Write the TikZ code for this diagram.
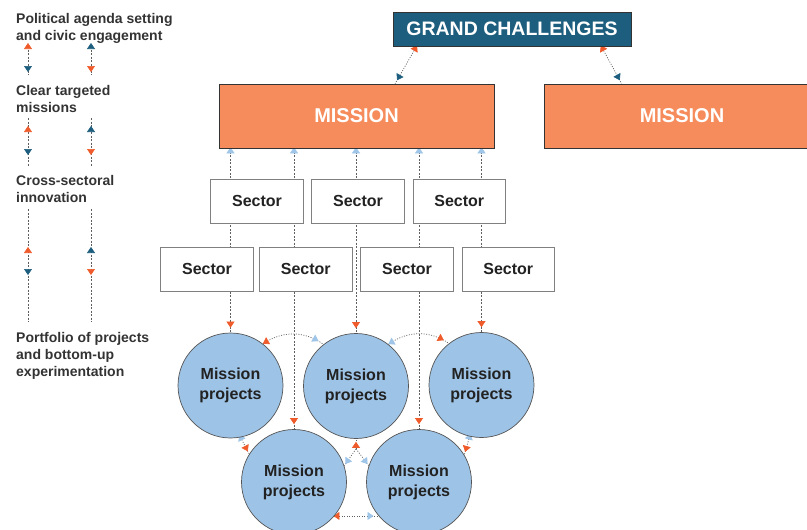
\documentclass[tikz,border=0pt]{standalone}
\usepackage{fontspec}
\setmainfont{Liberation Sans}
\usetikzlibrary{arrows.meta,decorations.markings,backgrounds,calc}
\definecolor{cOrange}{HTML}{EF5B2B}
\definecolor{cMission}{HTML}{F68B5B}
\definecolor{cTeal}{HTML}{1D5E7E}
\definecolor{cLight}{HTML}{9FC5E8}
\definecolor{cCirc}{HTML}{9DC3E6}
\definecolor{cCircB}{HTML}{555555}
\definecolor{cLine}{HTML}{5E5E5E}
\definecolor{cBox}{HTML}{808080}
\definecolor{cText}{HTML}{333333}
\definecolor{cDark}{HTML}{222222}
\begin{document}
\begin{tikzpicture}[x=1pt,y=-1pt,
  legtext/.style={anchor=north west, inner sep=0pt, align=left,
    font=\fontsize{14}{17}\selectfont\bfseries, text=cText},
  sectorbox/.style={draw=cBox, line width=0.8pt, fill=white,
    minimum width=92.5pt, minimum height=44pt, inner sep=0pt,
    font=\fontsize{16}{19}\selectfont\bfseries, text=cDark},
  missionbox/.style={draw=cText, line width=0.6pt, fill=cMission,
    minimum width=275pt, minimum height=64pt, inner sep=0pt,
    font=\fontsize{20}{24}\selectfont\bfseries, text=white},
  gcbox/.style={draw=cText, line width=0.6pt, fill=cTeal,
    minimum width=238pt, minimum height=34pt, inner sep=0pt,
    font=\fontsize{19.5}{23}\selectfont\bfseries, text=white},
  proj/.style={circle, draw=cCircB, line width=0.7pt, fill=cCirc,
    minimum size=105pt, inner sep=0pt, align=center,
    font=\fontsize{16}{20}\selectfont\bfseries, text=cDark},
  conn/.style={draw=cLine, line width=0.6pt, dash pattern=on 2pt off 1.5pt},
  dotconn/.style={draw=cLine, line width=0.7pt, dash pattern=on 1pt off 1.5pt},
  tips/.style n args={4}{postaction={decorate}, decoration={markings,
    mark=at position #2 with {\arrow{Triangle[reversed,width=8pt,length=6pt,color=#1]}},
    mark=at position #4 with {\arrow{Triangle[width=8pt,length=6pt,color=#3]}}}},
  endtip/.style 2 args={postaction={decorate}, decoration={markings,
    mark=at position #2 with {\arrow{Triangle[width=8pt,length=6pt,color=#1]}}}}
]
\useasboundingbox (0,0) rectangle (807,530);

% legend
\node[legtext] (t1) at (16,13) {Political agenda setting\\and civic engagement};
\node[legtext] (t2) at (16,85) {Clear targeted\\missions};
\node[legtext] (t3) at (16,175) {Cross-sectoral\\innovation};
\node[legtext] (t4) at (16,332) {Portfolio of projects\\and bottom-up\\experimentation};

\coordinate (l1a) at (28,46);  \coordinate (l1b) at (28,75);
\coordinate (r1a) at (91,46);  \coordinate (r1b) at (91,75);
\coordinate (l2a) at (28,118); \coordinate (l2b) at (28,167);
\coordinate (r2a) at (91,118); \coordinate (r2b) at (91,167);
\coordinate (l3a) at (28,209); \coordinate (l3b) at (28,322);
\coordinate (r3a) at (91,209); \coordinate (r3b) at (91,322);

\draw[conn, tips={cOrange}{3pt}{cTeal}{-3pt}] (l1a) -- (l1b);
\draw[conn, tips={cTeal}{3pt}{cOrange}{-3pt}] (r1a) -- (r1b);
\draw[conn, tips={cOrange}{14pt}{cTeal}{-12pt}] (l2a) -- (l2b);
\draw[conn, tips={cTeal}{14pt}{cOrange}{-12pt}] (r2a) -- (r2b);
\draw[conn, tips={cOrange}{44pt}{cTeal}{-47pt}] (l3a) -- (l3b);
\draw[conn, tips={cTeal}{44pt}{cOrange}{-47pt}] (r3a) -- (r3b);

% top boxes
\node[gcbox] (GC) at (512,29) {GRAND CHALLENGES};
\node[missionbox] (M1) at (356.5,116) {MISSION};
\node[missionbox, minimum width=276pt] (M2) at (682,116) {MISSION};

% sectors
\node[sectorbox] (s1) at (257,201) {Sector};
\node[sectorbox] (s2) at (358,201) {Sector};
\node[sectorbox] (s3) at (459.3,201) {Sector};
\node[sectorbox] (s4) at (207,269) {Sector};
\node[sectorbox] (s5) at (305.8,269) {Sector};
\node[sectorbox] (s6) at (407,269) {Sector};
\node[sectorbox] (s7) at (508.3,269) {Sector};

% mission projects
\node[proj] (c1) at (230.5,385.5) {Mission\\projects};
\node[proj] (c2) at (356,386) {Mission\\projects};
\node[proj] (c3) at (481.5,385) {Mission\\projects};
\node[proj] (c4) at (294,482) {Mission\\projects};
\node[proj] (c5) at (419,482) {Mission\\projects};

\coordinate (fork) at ($(c2.south)+(0,10)$);

\begin{pgfonlayer}{background}
\foreach \c in {c1,c4,c2,c5,c3}
  \draw[conn, tips={cLight}{5pt}{cOrange}{-5pt}] (\c.north |- M1.south) -- (\c.north);
\draw[dotconn, tips={cOrange}{5pt}{cTeal}{-4pt}]
  ($(GC.south west)!0.1!(GC.south east)$) -- ($(M1.north west)!0.64!(M1.north east)$);
\draw[dotconn, tips={cOrange}{5pt}{cTeal}{-4pt}]
  ($(GC.south west)!0.874!(GC.south east)$) -- ($(M2.north west)+(78,0)$);
\draw[dotconn, tips={cOrange}{6pt}{cLight}{-6pt}] (c1.52) to[bend left=35] (c2.128);
\draw[dotconn, tips={cLight}{6pt}{cOrange}{-6pt}] (c2.52) to[bend left=35] (c3.128);
\draw[dotconn, tips={cLight}{3pt}{cOrange}{-3pt}] (c1.281) -- (c4.148);
\draw[dotconn, tips={cLight}{3pt}{cOrange}{-3pt}] (c3.257) -- (c5.31);
\draw[dotconn, endtip={cOrange}{-3pt}] (fork) -- (c2.south);
\draw[dotconn, endtip={cLight}{-2pt}] (fork) -- (c4.18);
\draw[dotconn, endtip={cLight}{-2pt}] (fork) -- (c5.162);
\draw[dotconn, tips={cOrange}{5pt}{cLight}{-5pt}] (c4.320) -- (c5.220);
\end{pgfonlayer}
\end{tikzpicture}
\end{document}
